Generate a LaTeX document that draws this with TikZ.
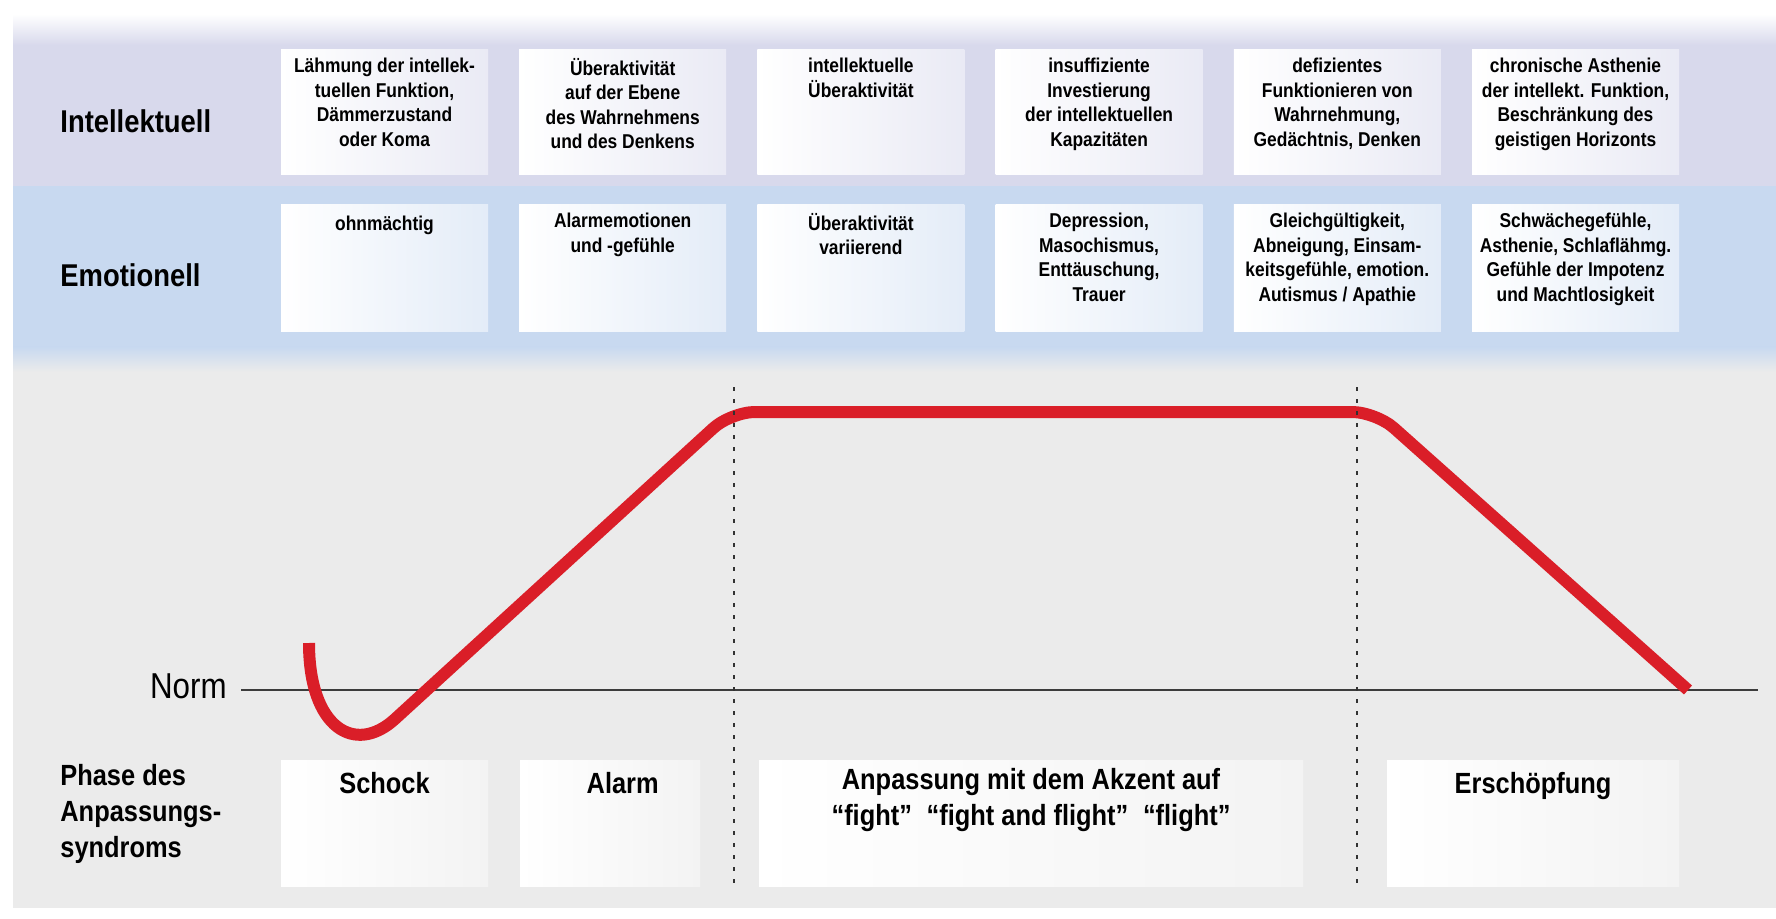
\documentclass[tikz,border=0pt]{standalone}
\usepackage{fontspec}
\setmainfont{Liberation Sans}[FakeStretch=0.87]
\definecolor{lav}{RGB}{216,217,236}
\definecolor{blu}{RGB}{200,217,240}
\definecolor{gry}{RGB}{235,235,235}
\definecolor{curvered}{RGB}{218,30,40}
\definecolor{normgray}{RGB}{60,60,60}
\definecolor{dotgray}{RGB}{50,50,50}
\begin{document}
\begin{tikzpicture}[x=0.5pt,y=-0.5pt,
  rowlabel/.style={font=\bfseries\fontsize{15.75}{19}\selectfont, inner sep=0, anchor=base west},
  cellI/.style={minimum width=103.5pt, minimum height=62.5pt, inner sep=0, left color=white, right color=lav!55!white},
  cellE/.style={minimum width=103.5pt, minimum height=63.5pt, inner sep=0, left color=white, right color=blu!50!white},
  phasebox/.style={minimum height=63pt, inner sep=0, left color=white, right color=gry!60!white},
  celltext/.style={font=\bfseries\fontsize{10}{12.2}\selectfont, align=center, inner sep=0, anchor=north, execute at begin node=\strut},
  phasetext/.style={font=\bfseries\fontsize{14.6}{18}\selectfont, align=center, inner sep=0, anchor=north, execute at begin node=\strut},
  phaselabel/.style={font=\bfseries\fontsize{14.6}{18}\selectfont, align=left, inner sep=0, anchor=north west, execute at begin node=\strut},
  normline/.style={draw=normgray, line width=1.4pt},
  divider/.style={draw=dotgray, line width=1.4pt, dash pattern=on 1.8pt off 4.2pt},
  curve/.style={draw=curvered, line width=6pt, line cap=butt, line join=round}
]
\useasboundingbox (0,0) rectangle (1776,919);
% background bands
\fill[white] (0,0) rectangle (1776,919);
\fill[gry] (13,360) rectangle (1776,908);
\fill[blu] (13,185) rectangle (1776,348);
\shade[top color=blu, bottom color=gry] (13,347) rectangle (1776,372);
\fill[lav] (13,44) rectangle (1776,186);
\shade[top color=white, bottom color=lav] (13,14) rectangle (1776,45);

% row labels
\node[rowlabel] (lint) at (60,133) {Intellektuell};
\node[rowlabel] (lemo) at (60,287) {Emotionell};
\node[phaselabel] (lphase) at (60,764) {Phase des\\Anpassungs-\\syndroms};
\node[font=\fontsize{18}{21}\selectfont, inner sep=0, anchor=base east] (lnorm) at (227,698) {Norm};

% intellectual row
\node[cellI] (i1) at (384.5,112.5) {};
\node[cellI] (i2) at (622.7,112.5) {};
\node[cellI] (i3) at (860.9,112.5) {};
\node[cellI] (i4) at (1099.1,112.5) {};
\node[cellI] (i5) at (1337.3,112.5) {};
\node[cellI] (i6) at (1575.5,112.5) {};
\node[celltext] (ti1) at (384.5,58) {Lähmung der intellek-\\tuellen Funktion,\\Dämmerzustand\\oder Koma};
\node[celltext] (ti2) at (622.7,58) {Überaktivität\\auf der Ebene\\des Wahrnehmens\\und des Denkens};
\node[celltext] (ti3) at (860.9,58) {intellektuelle\\Überaktivität};
\node[celltext] (ti4) at (1099.1,58) {insuffiziente\\Investierung\\der intellektuellen\\Kapazitäten};
\node[celltext] (ti5) at (1337.3,58) {defizientes\\Funktionieren von\\Wahrnehmung,\\Gedächtnis, Denken};
\node[celltext] (ti6) at (1575.5,58) {chronische Asthenie\\der intellekt. Funktion,\\Beschränkung des\\geistigen Horizonts};

% emotional row
\node[cellE] (e1) at (384.5,268.5) {};
\node[cellE] (e2) at (622.7,268.5) {};
\node[cellE] (e3) at (860.9,268.5) {};
\node[cellE] (e4) at (1099.1,268.5) {};
\node[cellE] (e5) at (1337.3,268.5) {};
\node[cellE] (e6) at (1575.5,268.5) {};
\node[celltext] (te1) at (384.5,213) {ohnmächtig};
\node[celltext] (te2) at (622.7,213) {Alarmemotionen\\und -gefühle};
\node[celltext] (te3) at (860.9,213) {Überaktivität\\variierend};
\node[celltext] (te4) at (1099.1,213) {Depression,\\Masochismus,\\Enttäuschung,\\Trauer};
\node[celltext] (te5) at (1337.3,213) {Gleichgültigkeit,\\Abneigung, Einsam-\\keitsgefühle, emotion.\\Autismus / Apathie};
\node[celltext] (te6) at (1575.5,213) {Schwächegefühle,\\Asthenie, Schlaflähmg.\\Gefühle der Impotenz\\und Machtlosigkeit};

% phase boxes
\node[phasebox, minimum width=103.5pt] (p1) at (384.5,823) {};
\node[phasebox, minimum width=90pt] (p2) at (610,823) {};
\node[phasebox, minimum width=272pt] (p3) at (1031,823) {};
\node[phasebox, minimum width=146pt] (p4) at (1533,823) {};
\node[phasetext] (tp1) at (384.5,768) {Schock};
\node[phasetext] (tp2) at (622.7,768) {Alarm};
\node[phasetext] (tp3) at (1031,768) {Anpassung mit dem Akzent auf\\“fight”\enspace“fight and flight”\enspace“flight”};
\node[phasetext] (tp4) at (1533,768) {Erschöpfung};

% norm line
\coordinate (n0) at (241,690);
\coordinate (n1) at (1758,690);
\draw[normline] (n0) -- (n1);

% red curve
\coordinate (r0) at (309,643);
\coordinate (r1) at (395,719);
\coordinate (v1) at (731,412);
\coordinate (v2) at (1376,412);
\coordinate (r2) at (1688,690);
\draw[curve] (r0) .. controls (309,728) and (355,755.6) .. (r1) [rounded corners=12pt] -- (v1) -- (v2) -- (r2);

% dotted dividers
\coordinate (d1t) at (734,387);
\coordinate (d1b) at (734,885);
\coordinate (d2t) at (1357,387);
\coordinate (d2b) at (1357,885);
\draw[divider] (d1t) -- (d1b);
\draw[divider] (d2t) -- (d2b);
\end{tikzpicture}
\end{document}
